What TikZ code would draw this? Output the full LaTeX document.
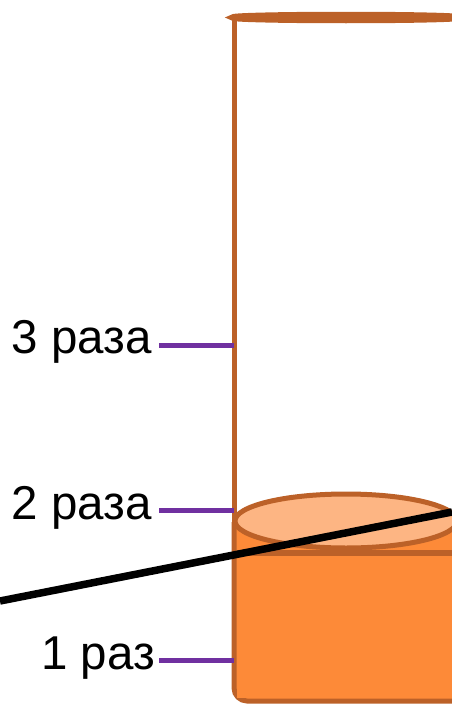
\documentclass[tikz,border=0pt]{standalone}
\usepackage{fontspec}
\setmainfont{Liberation Sans}
\definecolor{tubebrown}{HTML}{BC6128}
\definecolor{liquid}{HTML}{FD8A38}
\definecolor{surface}{HTML}{FDB583}
\definecolor{tickpurple}{HTML}{7030A0}
\begin{document}
\begin{tikzpicture}[x=1pt,y=-1pt,
  wall/.style={draw=tubebrown,line width=5pt},
  tickline/.style={draw=tickpurple,line width=5pt},
  level/.style={font=\fontsize{47.5}{52}\selectfont,inner sep=0pt,anchor=base east}]
\useasboundingbox (0,0) rectangle (452,704);
\clip (0,0) rectangle (452,704);
% empty tube: left wall and rim
\draw[wall] (234,17) -- (234,600);
\draw[tubebrown,line width=6.5pt] (346,17.5) ellipse [x radius=113,y radius=2.5];
% liquid column with rounded bottom
\draw[wall,fill=liquid,rounded corners=13pt]
  (234,522) -- (234,701) -- (470,701) -- (470,522);
\fill[liquid] (237,524) rectangle (460,698);
% liquid surface
\draw[wall,fill=surface] (346,521) ellipse [x radius=111,y radius=27];
\draw[tubebrown,line width=6pt] (237,553) -- (460,553);
% level marks
\coordinate (w3) at (234,345);
\coordinate (w2) at (234,510);
\coordinate (w1) at (234,660);
\coordinate (t3) at (159,345);
\coordinate (t2) at (159,510);
\coordinate (t1) at (159,660);
\draw[tickline] (t3) -- (w3);
\draw[tickline] (t2) -- (w2);
\draw[tickline] (t1) -- (w1);
\node[level] (l3) at (152,353) {3 раза};
\node[level] (l2) at (152,519) {2 раза};
\node[level] (l1) at (155,669) {1 раз};
% sight line
\coordinate (s0) at (0,601);
\coordinate (s1) at (452,512);
\draw[black,line width=7.5pt] (s0) -- (s1);
\end{tikzpicture}
\end{document}
